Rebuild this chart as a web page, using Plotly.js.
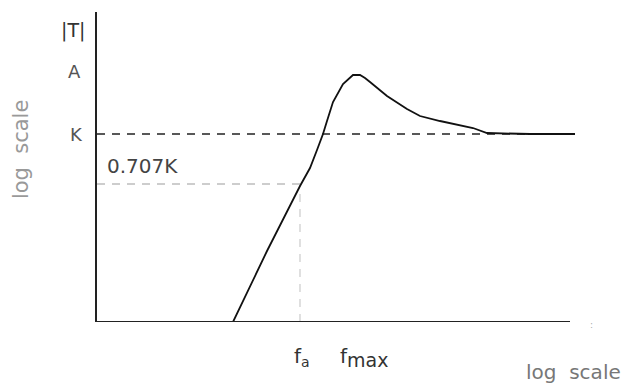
<!DOCTYPE html>
<html>
<head>
<meta charset="utf-8">
<script src="https://cdn.plot.ly/plotly-3.0.1.min.js"></script>
<style>html,body{margin:0;padding:0;background:#fff;}#chart{width:639px;height:385px;}</style>
</head>
<body>
<div id="chart"></div>
<script>
// log-frequency (arbitrary units) and log |T| (arbitrary units)
const curveX = [136, 170, 203, 213, 220, 226, 230, 236, 246, 252, 256, 263, 268, 273, 290, 310, 323, 343, 356, 376, 390, 433, 478];
const curveY = [0, 71, 136, 154, 172, 188, 201, 220, 238, 244, 247, 247, 244, 240, 226, 213, 206, 201, 198, 194, 189, 188, 188];
const levelK = 188;
const level707 = 138;
const levelA = 247;
const levelT = 292;
const fa = 203;
const fmax = 260;
const xAxisEnd = 473;

const font = 'DejaVu Sans, Liberation Sans, sans-serif';

const traces = [
  { x: [0, fa], y: [level707, level707], mode: 'lines', line: {color: '#bdbdbd', width: 1.5, dash: '8px,7px'}, hoverinfo: 'skip' },
  { x: [fa, fa], y: [0, level707], mode: 'lines', line: {color: '#cfcfcf', width: 1.3, dash: '8px,7px'}, hoverinfo: 'skip' },
  { x: [0, curveX[curveX.length - 1]], y: [levelK, levelK], mode: 'lines', line: {color: '#222', width: 1.6, dash: '8px,7px'}, hoverinfo: 'skip' },
  { x: curveX, y: curveY, mode: 'lines', line: {color: '#111', width: 1.8}, hoverinfo: 'skip' }
];

const layout = {
  width: 639, height: 385,
  margin: {l: 97, r: 62, t: 12, b: 63},
  paper_bgcolor: '#fff', plot_bgcolor: '#fff',
  showlegend: false,
  xaxis: {range: [0, 480], showgrid: false, zeroline: false, showline: false, showticklabels: false, ticks: '', fixedrange: true},
  yaxis: {range: [0, 310], showgrid: false, zeroline: false, showline: true, linecolor: '#222', linewidth: 2, showticklabels: false, ticks: '', fixedrange: true},
  shapes: [
    {type: 'line', xref: 'x', yref: 'y', x0: 0, x1: xAxisEnd, y0: 0, y1: 0, line: {color: '#222', width: 2}}
  ],
  annotations: [
    {text: '|T|', xref: 'paper', yref: 'y', x: -0.021, y: levelT, xanchor: 'right', yanchor: 'middle', showarrow: false, font: {family: font, size: 19, color: '#333'}},
    {text: 'A', xref: 'paper', yref: 'y', x: -0.03, y: levelA + 4, xanchor: 'right', yanchor: 'middle', showarrow: false, font: {family: font, size: 18, color: '#555'}},
    {text: 'K', xref: 'paper', yref: 'y', x: -0.025, y: levelK, xanchor: 'right', yanchor: 'middle', showarrow: false, font: {family: font, size: 18, color: '#555'}},
    {text: '0.707K', xref: 'x', yref: 'y', x: 8, y: level707, xanchor: 'left', yanchor: 'bottom', yshift: 4, showarrow: false, font: {family: font, size: 20, color: '#444'}},
    {text: 'f<sub>a</sub>', xref: 'x', yref: 'y', x: fa, y: 0, xanchor: 'center', yanchor: 'top', xshift: 2, yshift: -20, showarrow: false, font: {family: font, size: 20, color: '#333'}},
    {text: 'f<sub><span style="font-size:19px">max</span></sub>', xref: 'x', yref: 'y', x: fmax, y: 0, xanchor: 'center', yanchor: 'top', xshift: 7, yshift: -20, showarrow: false, font: {family: font, size: 20, color: '#333'}},
    {text: 'log  scale', xref: 'paper', yref: 'paper', x: 0.89, y: -0.161, xanchor: 'left', yanchor: 'middle', showarrow: false, font: {family: font, size: 20, color: '#777'}},
    {text: 'log  scale', xref: 'paper', yref: 'paper', x: -0.158, y: 0.555, xanchor: 'center', yanchor: 'middle', textangle: -90, showarrow: false, font: {family: font, size: 21, color: '#999'}},
    {text: ':', xref: 'paper', yref: 'paper', x: 1.03, y: -0.01, xanchor: 'center', yanchor: 'middle', showarrow: false, font: {family: font, size: 9, color: '#aaa'}}
  ]
};

Plotly.newPlot('chart', traces, layout, {staticPlot: true, displayModeBar: false});
</script>
</body>
</html>
